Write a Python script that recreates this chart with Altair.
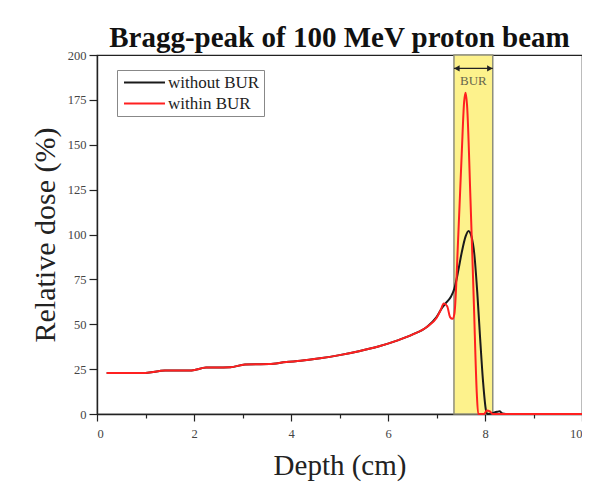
import altair as alt
import pandas as pd

# ---- data ----
red_depth = [0.2, 0.6, 1.0, 1.4, 1.95, 2.25, 2.75, 3.05, 3.55, 3.9, 4.2, 4.6, 5.0, 5.4,
             5.8, 6.2, 6.5, 6.8, 7.0, 7.08, 7.15, 7.22, 7.28, 7.33, 7.37, 7.45, 7.52,
             7.57, 7.6, 7.63, 7.7, 7.77, 7.83, 7.86, 7.98, 8.04, 8.1, 8.16, 9.0, 10.0]
red_dose = [22.8, 22.8, 22.9, 24.2, 24.3, 25.9, 26.0, 27.6, 27.8, 29.0, 29.6, 31.0, 32.8, 35.0,
            37.6, 41.0, 44.2, 48.5, 53.5, 57.5, 61.5, 60.0, 54.0, 53.0, 56.0, 100.0, 145.0,
            174.0, 179.0, 172.0, 120.0, 62.0, 12.0, 0.0, 0.0, 2.0, 1.5, 0.0, 0.0, 0.0]

black_depth = [0.2, 0.6, 1.0, 1.4, 1.95, 2.25, 2.75, 3.05, 3.55, 3.9, 4.2, 4.6, 5.0, 5.4,
               5.8, 6.2, 6.5, 6.8, 7.0, 7.1, 7.2, 7.3, 7.37, 7.45, 7.52, 7.6, 7.66, 7.72,
               7.78, 7.84, 7.9, 7.96, 8.02, 8.05, 8.25, 8.3, 8.36, 8.5, 10.0]
black_dose = [22.8, 22.8, 22.9, 24.2, 24.3, 25.9, 26.0, 27.6, 27.8, 29.0, 29.6, 31.0, 32.8, 35.0,
              37.6, 41.0, 44.2, 48.5, 54.0, 58.5, 62.0, 65.5, 70.0, 80.0, 90.0, 99.0, 102.0, 99.0,
              89.0, 68.0, 42.0, 18.0, 2.0, 0.0, 1.2, 1.5, 0.3, 0.0, 0.0]

series_names = ["without BUR", "within BUR"]
series_colors = ["#1a1a1a", "#ff2020"]

bur_start, bur_end = 7.36, 8.16
bur_label = "BUR"
bur_label_dose = 185.5
bur_arrow_dose = 192.5

x_ticks = list(range(0, 11))
y_ticks = [i * 12.5 for i in range(17)]

df = pd.concat([
    pd.DataFrame({"depth": black_depth, "dose": black_dose, "series": series_names[0], "order": 0}),
    pd.DataFrame({"depth": red_depth, "dose": red_dose, "series": series_names[1], "order": 1}),
])
band_df = pd.DataFrame({"x1": [bur_start], "x2": [bur_end], "y1": [0], "y2": [200]})
ann_df = pd.DataFrame({"xm": [(bur_start + bur_end) / 2], "x1": [bur_start], "x2": [bur_end],
                       "ly": [bur_label_dose], "ay": [bur_arrow_dose], "label": [bur_label]})
heads_df = pd.DataFrame({"x": [bur_start + 0.06, bur_end - 0.06], "y": [bur_arrow_dose] * 2,
                         "shape": ["triangle-left", "triangle-right"]})

FONT = "Liberation Serif"

xscale = alt.Scale(domain=[0, 10], nice=False, zero=False)
yscale = alt.Scale(domain=[0, 200], nice=False)

x_axis = alt.Axis(
    values=x_ticks, title="Depth (cm)",
    labelExpr="datum.value % 2 == 0 ? datum.label : ''",
    tickSize={"condition": {"test": "datum.value % 2 == 0", "value": 7}, "value": 4},
    grid=False, labelFont=FONT, labelFontSize=12.5, labelColor="#444", labelPadding=6,
    titleFont=FONT, titleFontSize=29, titleFontWeight="normal", titleColor="#222",
    titlePadding=12, domainColor="#222", domainWidth=1.4, tickColor="#222", tickWidth=1.2,
)
y_axis = alt.Axis(
    values=y_ticks, title="Relative dose (%)",
    labelExpr="datum.value % 25 == 0 ? datum.label : ''",
    tickSize={"condition": {"test": "datum.value % 25 == 0", "value": 8}, "value": 4},
    grid=False, labelFont=FONT, labelFontSize=12.5, labelColor="#444", labelPadding=3,
    titleFont=FONT, titleFontSize=30, titleFontWeight="normal", titleColor="#222",
    titleX=-52, titleY=179.5, titleBaseline="middle", titleAngle=-90,
    domainColor="#222", domainWidth=1.4, tickColor="#222", tickWidth=1.2,
)

band = alt.Chart(band_df).mark_rect(
    fill="#fdf28c", stroke="#8f8f7a", strokeWidth=1.5
).encode(
    x=alt.X("x1:Q", scale=xscale, axis=x_axis), x2="x2:Q",
    y=alt.Y("y1:Q", scale=yscale, axis=y_axis), y2="y2:Q",
)

lines = alt.Chart(df).mark_line(strokeWidth=2, interpolate="monotone").encode(
    x=alt.X("depth:Q", scale=xscale),
    y=alt.Y("dose:Q", scale=yscale),
    color=alt.Color("series:N", scale=alt.Scale(domain=series_names, range=series_colors),
                    legend=alt.Legend(
                        title=None, orient="none", legendX=20, legendY=15,
                        symbolType="M-4,0H4", symbolSize=105, symbolStrokeWidth=2,
                        symbolOffset=15,
                        labelFont=FONT, labelFontSize=17, labelColor="#222",
                        strokeColor="#888", padding=4, rowPadding=3, labelOffset=15,
                        fillColor="white")),
    detail="order:N",
    order="order:Q",
)

arrow = alt.Chart(ann_df).mark_rule(color="#222", strokeWidth=1.3).encode(
    x=alt.X("x1:Q", scale=xscale), x2="x2:Q", y=alt.Y("ay:Q", scale=yscale))
heads = alt.Chart(heads_df).mark_point(filled=True, color="#222", size=40, opacity=1).encode(
    x=alt.X("x:Q", scale=xscale), y=alt.Y("y:Q", scale=yscale),
    shape=alt.Shape("shape:N", scale=None))
label = alt.Chart(ann_df).mark_text(font=FONT, fontSize=13, color="#66664d").encode(
    x=alt.X("xm:Q", scale=xscale), y=alt.Y("ly:Q", scale=yscale), text="label:N")

chart = alt.layer(band, lines, arrow, heads, label).properties(
    width=485, height=359,
    padding={"left": 89, "top": 47, "right": 0, "bottom": 81},
    autosize=alt.AutoSizeParams(type="none"),
    title=alt.TitleParams("Bragg-peak of 100 MeV proton beam", font=FONT, fontSize=29,
                          fontWeight="bold", color="#111", anchor="middle", offset=4,
                          baseline="alphabetic", dy=31),
).configure_view(stroke="#222", strokeWidth=1.2)

chart.save("out.html", embed_options={"renderer": "svg", "actions": False})
